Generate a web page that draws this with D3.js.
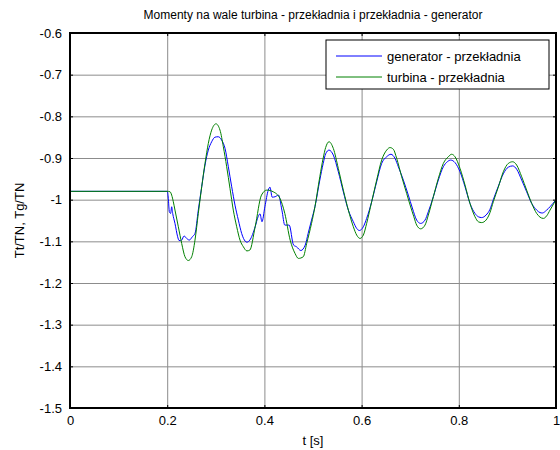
<!DOCTYPE html>
<html lang="pl">
<head>
<meta charset="utf-8">
<script src="https://d3js.org/d3.v7.min.js"></script>
<style>
	body { margin:0; background:#fff; font-family: "Liberation Sans", Arial, sans-serif; }
	svg { background-color:#fff; }
	.grid line { stroke:#8c8c8c; stroke-width:1; }
	.grid path { display:none; }
	.ax path { display:none; }
	.ax line { stroke:#000; }
	.ax text { font-size:13px; fill:#000; }
</style>
</head>
<body>
<script>
// osie
var xTicks = [0, 0.2, 0.4, 0.6, 0.8, 1];
var xTickLabels = ["0", "0.2", "0.4", "0.6", "0.8", "1"];
var yTicks = [-0.6, -0.7, -0.8, -0.9, -1, -1.1, -1.2, -1.3, -1.4, -1.5];
var yTickLabels = ["-0.6", "-0.7", "-0.8", "-0.9", "-1", "-1.1", "-1.2", "-1.3", "-1.4", "-1.5"];
var seriesNames = ["generator - przekładnia", "turbina - przekładnia"];

// generator - przekładnia
var tGen = [0, 0.2, 0.2023, 0.2044, 0.2071, 0.2092, 0.2113, 0.216, 0.2215, 0.2243, 0.2298, 0.2346, 0.240, 0.2455, 0.2517, 0.2572,
	0.264, 0.271, 0.2778, 0.2846, 0.2915, 0.2984, 0.3052, 0.312, 0.319, 0.3258, 0.3327, 0.3395, 0.3464, 0.3532, 0.357, 0.364, 0.370,
	0.381, 0.387, 0.391, 0.395, 0.401, 0.408, 0.4115, 0.416, 0.422, 0.429, 0.436, 0.442, 0.451, 0.460, 0.466, 0.475, 0.484, 0.490,
	0.497, 0.504, 0.514, 0.521, 0.526, 0.533, 0.5418, 0.5521, 0.5624, 0.5727, 0.583, 0.5899, 0.5953, 0.6036, 0.6104, 0.6207, 0.631,
	0.6413, 0.6516, 0.6605, 0.6687, 0.6756, 0.6859, 0.6961, 0.7044, 0.7133, 0.7215, 0.7305, 0.7373, 0.7476, 0.7579, 0.7682, 0.7764,
	0.7833, 0.7922, 0.8025, 0.8128, 0.823, 0.8333, 0.8402, 0.8471, 0.856, 0.8642, 0.871, 0.8813, 0.8916, 0.9019, 0.9108, 0.9191,
	0.9294, 0.9396, 0.95, 0.9602, 0.9671, 0.9719, 0.9808, 0.9877, 1.0];
var vGen = [-0.98, -0.98, -0.997, -1.029, -1.033, -1.017, -1.033, -1.057, -1.089, -1.098, -1.097, -1.087, -1.093, -1.097, -1.089, -1.081,
	-1.025, -0.969, -0.917, -0.881, -0.861, -0.850, -0.849, -0.857, -0.877, -0.921, -0.969, -1.013, -1.049, -1.081, -1.093, -1.102, -1.097,
	-1.065, -1.041, -1.034, -1.053, -1.017, -0.977, -0.970, -0.994, -0.993, -0.989, -1.025, -1.061, -1.061, -1.109, -1.113, -1.122, -1.109, -1.081,
	-1.049, -1.017, -0.953, -0.913, -0.890, -0.881, -0.893, -0.933, -0.981, -1.025, -1.053, -1.069, -1.074, -1.065, -1.045, -1.005, -0.957,
	-0.913, -0.897, -0.891, -0.901, -0.921, -0.953, -0.989, -1.020, -1.049, -1.057, -1.049, -1.029, -0.993, -0.953, -0.921, -0.909,
	-0.905, -0.911, -0.933, -0.969, -1.009, -1.033, -1.041, -1.043, -1.037, -1.023, -1.000, -0.968, -0.938, -0.922, -0.919, -0.927,
	-0.953, -0.981, -1.009, -1.025, -1.031, -1.032, -1.025, -1.017, -1.0];

// turbina - przekładnia
var tTurb = [0, 0.2, 0.2058, 0.2092, 0.2126, 0.216, 0.2229, 0.2298, 0.2366, 0.2435, 0.2504, 0.2572, 0.264, 0.271, 0.2778, 0.2846,
	0.2915, 0.3004, 0.3086, 0.3155, 0.3224, 0.3292, 0.336, 0.343, 0.3498, 0.3567, 0.364, 0.370, 0.381, 0.394, 0.405, 0.418, 0.432,
	0.442, 0.453, 0.463, 0.470, 0.480, 0.487, 0.497, 0.504, 0.514, 0.521, 0.526, 0.533, 0.5418, 0.5521, 0.5624, 0.5727, 0.583, 0.5899,
	0.5967, 0.6036, 0.6104, 0.6207, 0.631, 0.6413, 0.6516, 0.6584, 0.6653, 0.6722, 0.6825, 0.6927, 0.703, 0.7075, 0.7133, 0.7215,
	0.7305, 0.7373, 0.7476, 0.7579, 0.7682, 0.7785, 0.7853, 0.7922, 0.8025, 0.8128, 0.823, 0.8333, 0.8402, 0.8471, 0.856, 0.8642,
	0.871, 0.8813, 0.8916, 0.9019, 0.9108, 0.9191, 0.9294, 0.9396, 0.95, 0.9602, 0.9671, 0.974, 0.9808, 0.9877, 1.0];
var vTurb = [-0.98, -0.98, -0.981, -0.989, -1.005, -1.025, -1.065, -1.105, -1.137, -1.146, -1.137, -1.097, -1.033, -0.969, -0.913, -0.865,
	-0.833, -0.818, -0.833, -0.873, -0.921, -0.973, -1.025, -1.065, -1.097, -1.113, -1.123, -1.121, -1.065, -0.989, -0.977, -0.981, -0.997,
	-1.033, -1.097, -1.129, -1.141, -1.137, -1.105, -1.057, -1.017, -0.945, -0.900, -0.875, -0.861, -0.877, -0.925, -0.977, -1.025, -1.065, -1.085,
	-1.093, -1.085, -1.057, -1.005, -0.953, -0.905, -0.881, -0.875, -0.879, -0.901, -0.945, -0.985, -1.025, -1.041, -1.061, -1.070,
	-1.061, -1.037, -0.993, -0.949, -0.913, -0.897, -0.891, -0.897, -0.925, -0.965, -1.009, -1.041, -1.053, -1.055, -1.049, -1.031,
	-1.005, -0.970, -0.933, -0.913, -0.909, -0.917, -0.945, -0.977, -1.009, -1.033, -1.042, -1.045, -1.039, -1.025, -1.0];

var colors = ["#0000ff", "#008000"];

function draw(){
	var W = 560, H = 450;
	var left = 70, right = 556, top = 33, bottom = 408;

	var svg = d3.select("body").append("svg").attr("width", W).attr("height", H);

	var x = d3.scaleLinear().domain([0, 1]).range([left, right]);
	var y = d3.scaleLinear().domain([-1.5, -0.6]).range([bottom, top]);

	// siatka
	svg.append("g").attr("class", "grid")
		.attr("transform", "translate(0," + bottom + ")")
		.call(d3.axisBottom(x).tickValues(xTicks.slice(1, -1)).tickSize(-(bottom - top)).tickFormat(""));
	svg.append("g").attr("class", "grid")
		.attr("transform", "translate(" + left + ",0)")
		.call(d3.axisLeft(y).tickValues(yTicks.slice(1, -1)).tickSize(-(right - left)).tickFormat(""));

	// przebiegi
	var gen = tGen.map(function(t, i){ return [t, vGen[i]]; });
	var turb = tTurb.map(function(t, i){ return [t, vTurb[i]]; });
	var line = d3.line()
		.x(function(d){ return x(d[0]); })
		.y(function(d){ return y(d[1]); })
		.curve(d3.curveMonotoneX);

	var plot = svg.append("g");
	plot.append("path").datum(gen).attr("d", line)
		.attr("fill", "none").attr("stroke", colors[0]).attr("stroke-width", 1);
	plot.append("path").datum(turb).attr("d", line)
		.attr("fill", "none").attr("stroke", colors[1]).attr("stroke-width", 1);

	// osie - kreski do wewnątrz jak w MATLAB
	var fmtX = function(d, i){ return xTickLabels[i]; };
	var fmtY = function(d, i){ return yTickLabels[i]; };
	svg.append("g").attr("class", "ax")
		.attr("transform", "translate(0," + bottom + ")")
		.call(d3.axisBottom(x).tickValues(xTicks).tickSizeInner(-3).tickSizeOuter(0).tickPadding(8).tickFormat(fmtX));
	svg.append("g").attr("class", "ax")
		.attr("transform", "translate(0," + top + ")")
		.call(d3.axisTop(x).tickValues(xTicks).tickSizeInner(-3).tickSizeOuter(0).tickFormat(""));
	svg.append("g").attr("class", "ax")
		.attr("transform", "translate(" + left + ",0)")
		.call(d3.axisLeft(y).tickValues(yTicks).tickSizeInner(-3).tickSizeOuter(0).tickPadding(8).tickFormat(fmtY));
	svg.append("g").attr("class", "ax")
		.attr("transform", "translate(" + right + ",0)")
		.call(d3.axisRight(y).tickValues(yTicks).tickSizeInner(-3).tickSizeOuter(0).tickFormat(""));

	// ramka
	svg.append("rect")
		.attr("x", left).attr("y", top)
		.attr("width", right - left).attr("height", bottom - top)
		.attr("fill", "none").attr("stroke", "#000").attr("stroke-width", 2);

	// tytuł i opisy osi
	svg.append("text")
		.attr("x", (left + right) / 2).attr("y", 19)
		.attr("text-anchor", "middle").style("font-size", "12px")
		.text("Momenty na wale turbina - przekładnia i przekładnia - generator");
	svg.append("text")
		.attr("x", (left + right) / 2).attr("y", 445)
		.attr("text-anchor", "middle").style("font-size", "13px")
		.text("t [s]");
	svg.append("text")
		.attr("transform", "translate(24," + ((top + bottom) / 2) + ") rotate(-90)")
		.attr("text-anchor", "middle").style("font-size", "13px")
		.text("Tt/TN, Tg/TN");

	// legenda
	var lg = svg.append("g").attr("transform", "translate(326,40)");
	lg.append("rect").attr("width", 223).attr("height", 49)
		.attr("fill", "#fff").attr("stroke", "#000").attr("stroke-width", 1);
	seriesNames.forEach(function(name, i){
		var yy = 16 + i * 21;
		lg.append("line").attr("x1", 10).attr("x2", 56).attr("y1", yy).attr("y2", yy)
			.attr("stroke", colors[i]).attr("stroke-width", 1);
		lg.append("text").attr("x", 61).attr("y", yy).attr("dy", "0.35em")
			.style("font-size", "13px").text(name);
	});
}
draw();
</script>
</body>
</html>
